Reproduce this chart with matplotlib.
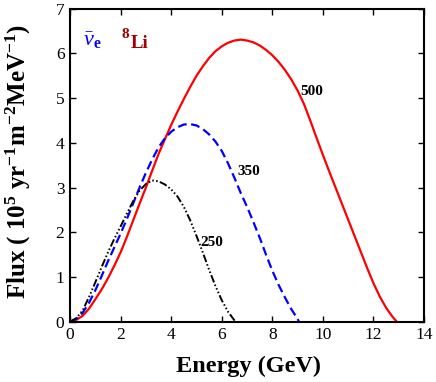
import matplotlib
matplotlib.use('Agg')
import matplotlib.pyplot as plt

plt.rcParams['font.family'] = ['Liberation Serif', 'DejaVu Serif']
plt.rcParams['mathtext.fontset'] = 'custom'
plt.rcParams['mathtext.rm'] = 'Liberation Serif'
plt.rcParams['mathtext.it'] = 'Liberation Serif:italic'
plt.rcParams['mathtext.bf'] = 'Liberation Serif:bold'

# 500 curve (red, solid)
e500 = [0, 0.25, 0.5, 0.75, 1, 1.25, 1.5, 1.75, 2, 2.25, 2.5, 2.75, 3, 3.25, 3.5, 3.75,
        4, 4.25, 4.5, 4.75, 5, 5.25, 5.5, 5.75, 6, 6.25, 6.5, 6.75, 7, 7.25, 7.5, 7.75,
        8, 8.25, 8.5, 8.75, 9, 9.25, 9.5, 9.75, 10, 10.25, 10.5, 10.75, 11, 11.25, 11.5,
        11.75, 12, 12.25, 12.5, 12.75, 12.92]
f500 = [0, 0.04, 0.13, 0.29, 0.5, 0.72, 0.97, 1.25, 1.55, 1.9, 2.27, 2.64, 3.0, 3.38,
        3.75, 4.08, 4.4, 4.7, 4.98, 5.25, 5.5, 5.71, 5.9, 6.05, 6.16, 6.24, 6.29, 6.31,
        6.29, 6.25, 6.18, 6.08, 5.96, 5.81, 5.63, 5.42, 5.17, 4.87, 4.5, 4.11, 3.73, 3.36,
        3.0, 2.64, 2.28, 1.92, 1.56, 1.2, 0.86, 0.56, 0.31, 0.11, 0]

# 350 curve (blue, dashed)
e350 = [0, 0.25, 0.5, 0.75, 1, 1.25, 1.5, 1.75, 2, 2.25, 2.5, 2.75, 3, 3.25, 3.5, 3.75,
        4, 4.25, 4.5, 4.75, 5, 5.25, 5.5, 5.75, 6, 6.25, 6.5, 6.75, 7, 7.25, 7.5, 7.75,
        8, 8.25, 8.5, 8.75, 9, 9.05]
f350 = [0, 0.06, 0.2, 0.42, 0.7, 1.02, 1.35, 1.66, 1.97, 2.3, 2.65, 3.0, 3.33, 3.63,
        3.9, 4.1, 4.25, 4.35, 4.41, 4.42, 4.39, 4.31, 4.19, 4.03, 3.82, 3.54, 3.22, 2.88,
        2.57, 2.23, 1.88, 1.5, 1.14, 0.82, 0.54, 0.28, 0.06, 0]

# 250 curve (black, dash-dot-dot)
e250 = [0, 0.25, 0.5, 0.75, 1, 1.25, 1.5, 1.75, 2, 2.25, 2.5, 2.75, 3, 3.25, 3.5, 3.75,
        4, 4.25, 4.5, 4.75, 5, 5.25, 5.5, 5.75, 6, 6.25, 6.5, 6.53]
f250 = [0, 0.08, 0.25, 0.55, 0.88, 1.22, 1.55, 1.85, 2.13, 2.42, 2.7, 2.93, 3.08, 3.16,
        3.14, 3.07, 2.96, 2.8, 2.57, 2.27, 1.92, 1.55, 1.16, 0.8, 0.48, 0.22, 0.03, 0]

fig = plt.figure(figsize=(4.36, 3.82), dpi=100)
ax = fig.add_axes([0.1606, 0.158, 0.812, 0.819])

ax.plot(e500, f500, color='#ff0000', lw=1.6, solid_joinstyle='round')
ax.plot(e350, f350, color='#0000ff', lw=1.6, dashes=(4, 2))
ax.plot(e250, f250, color='black', lw=1.4, dashes=(4, 1.2, 0.8, 1.2, 0.8, 1.2, 0.8, 1.2))

ax.text(9.1, 5.14, '500', fontsize=11, fontweight='bold', va='center', ha='left')
ax.text(6.64, 3.37, '350', fontsize=11, fontweight='bold', va='center', ha='left')
ax.text(5.14, 1.78, '250', fontsize=11, fontweight='bold', va='center', ha='left')

ax.text(0.5, 6.28, r'$\bar{\nu}_\mathbf{e}$', color='#0000ff', fontsize=16,
        va='center', ha='left')
ax.text(2.04, 6.42, '8', color='#a00000', fontsize=11, fontweight='bold',
        va='center', ha='left')
ax.text(2.4, 6.23, 'Li', color='#a00000', fontsize=13.5, fontweight='bold',
        va='center', ha='left')

ax.set_xlim(0, 14)
ax.set_ylim(0, 7)
ax.set_xticks(range(0, 15, 2))
ax.set_yticks(range(0, 8))
ax.tick_params(direction='in', top=True, right=True, length=4, width=1,
               labelsize=12.5, pad=4)
for s in ax.spines.values():
    s.set_linewidth(1.5)

fig.text(0.57, 0.04, 'Energy (GeV)', fontsize=17.5, fontweight='bold',
         ha='center', va='center')
fig.text(0.043, 0.578,
         r'Flux ( $\mathbf{10^5\ yr^{-1}m^{-2}MeV^{-1}}$)',
         fontsize=18, fontweight='bold', rotation=90, ha='center', va='center')

fig.savefig('out.png', dpi=100)
